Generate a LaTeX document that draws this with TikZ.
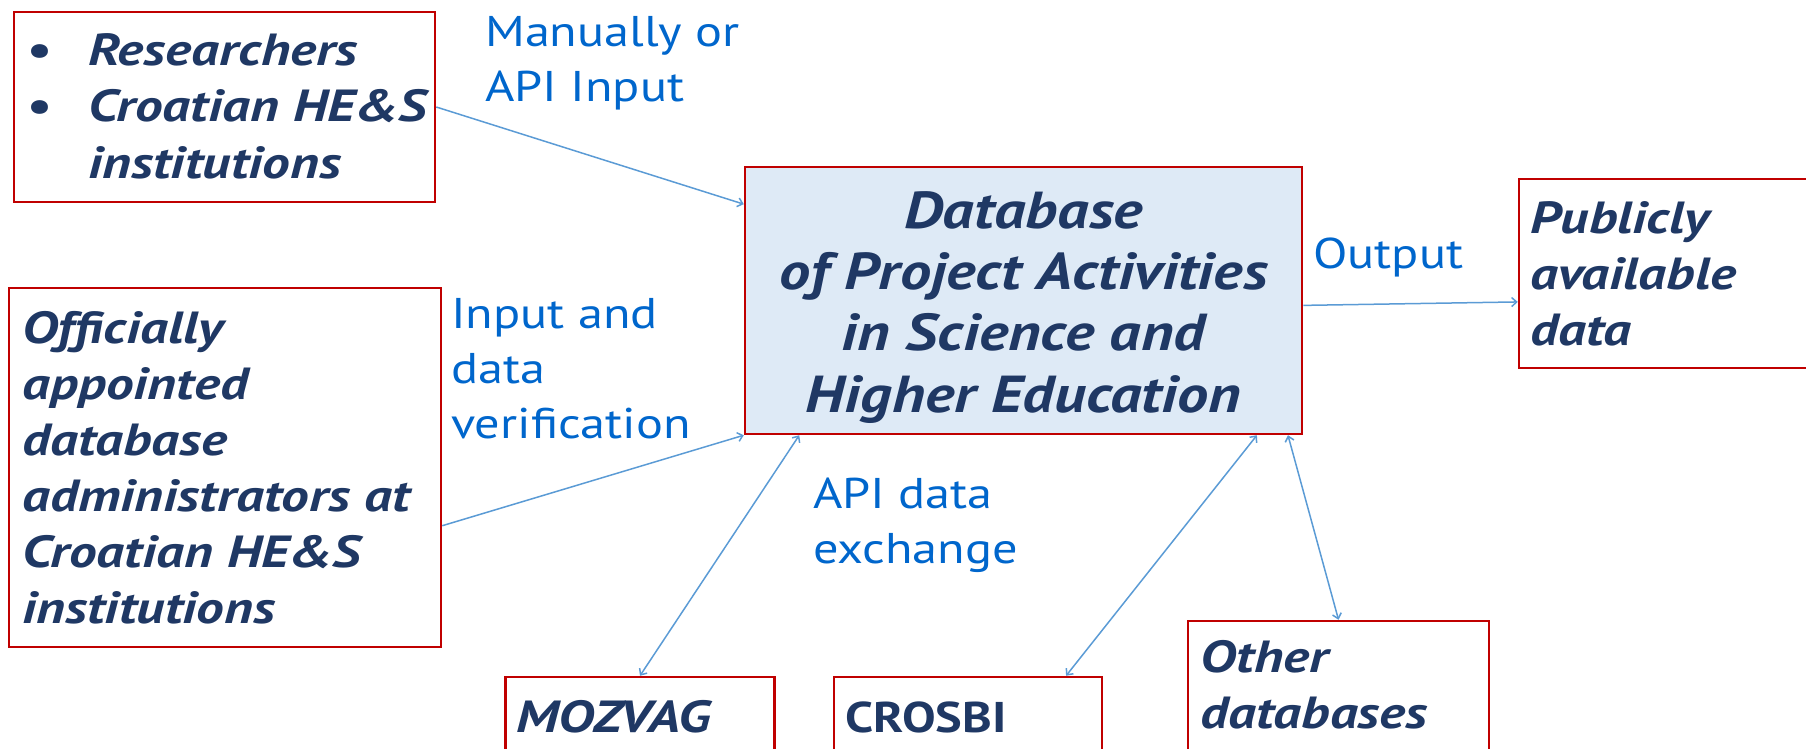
\documentclass[tikz,border=0pt]{standalone}
\usepackage{fontspec}
\usetikzlibrary{arrows.meta}
\setmainfont{PT Sans}
\newfontfamily\boxfont{PT Sans}[FakeStretch=1.23]
\newfontfamily\dbfont{PT Sans}[FakeStretch=1.2]
\newfontfamily\lblfont{PT Sans}[FakeStretch=1.17]
\definecolor{navy}{HTML}{1F3864}
\definecolor{lblblue}{HTML}{0066CC}
\definecolor{boxred}{HTML}{C00000}
\definecolor{dbfill}{HTML}{DEEAF6}
\definecolor{linkblue}{HTML}{5B9BD5}

\begin{document}
\begin{tikzpicture}[x=1pt,y=-1pt,>={Straight Barb[length=5pt,width=9pt]},
  box/.style={draw=boxred,line width=2.5pt,inner sep=0pt},
  txt/.style={font=\boxfont\bfseries\itshape\fontsize{45}{56}\selectfont,text=navy,align=left,inner sep=0pt},
  dbtxt/.style={font=\dbfont\bfseries\itshape\fontsize{52}{61.3}\selectfont,text=navy,align=center,inner sep=0pt},
  lbl/.style={font=\lblfont\fontsize{43}{55}\selectfont,text=lblblue,align=left,inner sep=0pt},
  link/.style={draw=linkblue,line width=1.5pt}]
\clip (0,0) rectangle (1806,749);
\node [box,minimum width=421pt,minimum height=190pt] (res) at (224.5,107) {};
\node [box,minimum width=432pt,minimum height=359pt] (off) at (225,467.5) {};
\node [box,fill=dbfill,minimum width=557pt,minimum height=267pt] (db) at (1023.5,300.5) {};
\node [box,minimum width=320pt,minimum height=189pt] (pub) at (1679,273.5) {};
\node [box,minimum width=269pt,minimum height=140pt] (moz) at (640,747) {};
\node [box,minimum width=268pt,minimum height=140pt] (cro) at (968,747) {};
\node [box,minimum width=301pt,minimum height=170pt] (oth) at (1338.5,706) {};

\node [txt,anchor=base west] (restxt) at (27,178)
  {\makebox[61pt][l]{\upshape\textbullet}Researchers\\
   \makebox[61pt][l]{\upshape\textbullet}Croatian HE\&S\\
   \hspace*{61pt}institutions};
\node [txt,anchor=base west] (offtxt) at (22,623)
  {Officially\\appointed\\database\\administrators at\\Croatian HE\&S\\institutions};
\node [dbtxt,anchor=base] (dbtxt) at (1023.5,412)
  {Database\\ of Project Activities\\ in Science and\\Higher Education};
\node [txt,anchor=base west] (pubtxt) at (1530,345) {Publicly\\available\\data};
\node [txt,anchor=base west] (moztxt) at (516,732) {MOZVAG};
\node [txt,font=\lblfont\bfseries\fontsize{43}{56}\selectfont,anchor=base west] (crotxt) at (845,732) {CROSBI};
\node [txt,anchor=base west] (othtxt) at (1200,728) {Other\\databases};

\node [lbl,anchor=base west] (manual) at (485,102) {Manually or\\API Input};
\node [lbl,anchor=base west] (verify) at (451,438) {Input and\\data\\verification};
\node [lbl,anchor=base west] (apiex) at (813,563) {API data\\exchange};
\node [lbl,anchor=base west] (output) at (1313,268) {Output};

\draw [link,->] (res.east) -- (db.161);
\draw [link,->] (off.-15) -- (db.south west);
\draw [link,<->] (moz.north) -- (db.211);
\draw [link,<->] (cro.36) -- (db.-30);
\draw [link,<->] (oth.north) -- (db.-27);
\draw [link,->] (db.-1) -- (pub.190);
\end{tikzpicture}
\end{document}
